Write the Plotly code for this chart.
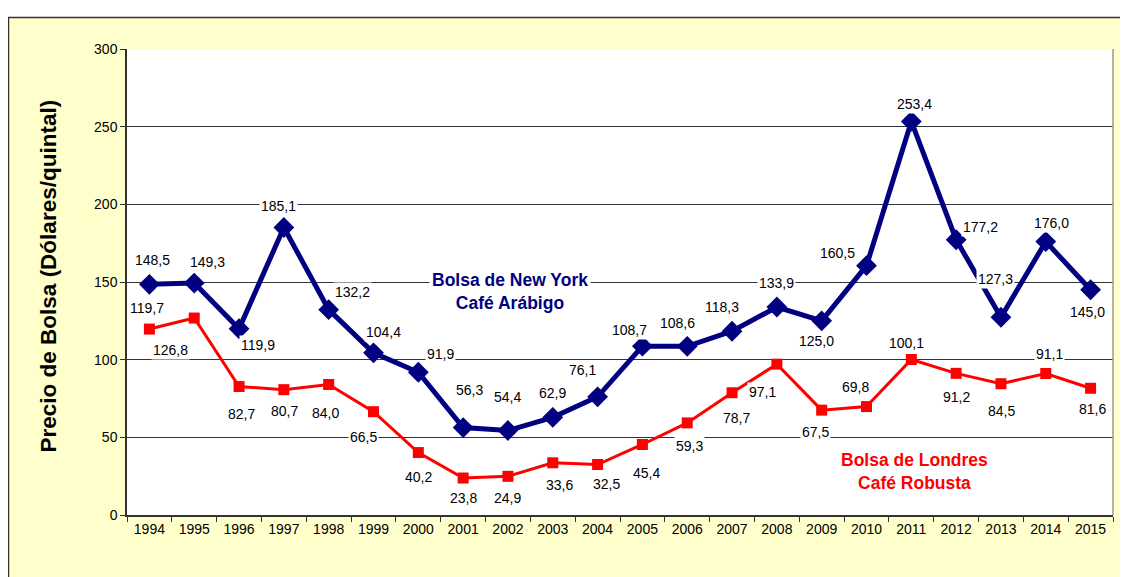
import plotly.graph_objects as go

years = [str(y) for y in range(1994, 2016)]
ny_arabigo = [148.5, 149.3, 119.9, 185.1, 132.2, 104.4, 91.9, 56.3, 54.4, 62.9, 76.1,
              108.7, 108.6, 118.3, 133.9, 125.0, 160.5, 253.4, 177.2, 127.3, 176.0, 145.0]
londres_robusta = [119.7, 126.8, 82.7, 80.7, 84.0, 66.5, 40.2, 23.8, 24.9, 33.6, 32.5,
                   45.4, 59.3, 78.7, 97.1, 67.5, 69.8, 100.1, 91.2, 84.5, 91.1, 81.6]

# label pixel offsets (dx, dy screen; dy positive = down)
ny_off = [(3, -24), (13, -21), (19, 16), (-5, -21), (24, -18), (10, -21), (22, -18),
          (6, -38), (0, -34), (0, -24), (-15, -27), (-13, -16), (-10, -23), (-10, -24),
          (0, -24), (-5, 20), (-29, -13), (3, -17), (24, -13), (-5, -38), (6, -19), (-3, 22)]
lo_off = [(-2, -21), (-24, 32), (2, 27), (1, 21), (-3, 28), (-10, 25), (0, 24),
          (0, 20), (0, 22), (7, 22), (9, 19), (4, 29), (2, 23), (4, 25), (-14, 28),
          (-6, 22), (-11, -20), (-5, -17), (0, 24), (1, 27), (4, -19), (2, 21)]

NAVY = "#000080"
RED = "#FF0000"
FONT = "Liberation Sans, Arial, sans-serif"

fig = go.Figure()
fig.add_trace(go.Scatter(x=years, y=londres_robusta, mode="lines+markers",
                         line=dict(color=RED, width=3),
                         marker=dict(symbol="square", size=11, color=RED),
                         name="Bolsa de Londres"))
fig.add_trace(go.Scatter(x=years, y=ny_arabigo, mode="lines+markers",
                         line=dict(color=NAVY, width=5),
                         marker=dict(symbol="diamond", size=16, color=NAVY),
                         name="Bolsa de New York"))

annotations = []
def fmt(v):
    return f"{v:.1f}".replace(".", ",")

for series, offs in ((ny_arabigo, ny_off), (londres_robusta, lo_off)):
    for i, (v, (dx, dy)) in enumerate(zip(series, offs)):
        annotations.append(dict(x=i, y=v, xref="x", yref="y", text=fmt(v),
                                showarrow=False, xshift=dx, yshift=-dy,
                                bgcolor="white", borderpad=1,
                                font=dict(family=FONT, size=14, color="black")))

annotations.append(dict(x=8.05, y=143.6, xref="x", yref="y",
                        text="Bolsa de New York<br>Café Arábigo", showarrow=False,
                        bgcolor="white", borderpad=2,
                        font=dict(family=FONT, size=17.5, color=NAVY, weight="bold")))
annotations.append(dict(x=17.08, y=27.7, xref="x", yref="y",
                        text="Bolsa de Londres<br>Café Robusta", showarrow=False,
                        bgcolor="white", borderpad=2,
                        font=dict(family=FONT, size=17.5, color=RED, weight="bold")))

# page is drawn with an 8px body margin; figure coordinates are page - 8
W, H = 1120, 569
L, T, R, B = 119, 41, 15, 62
pw, ph = W - L - R, H - T - B
def px(xp):
    return (xp - L) / pw
def py(yp):
    return (H - B - yp) / ph

annotations.append(dict(x=px(26), y=0.513, xref="paper", yref="paper",
                        text="Precio de Bolsa (Dólares/quintal)", textangle=-90,
                        showarrow=False,
                        font=dict(family=FONT, size=22.5, color="black", weight="bold")))

shapes = [
    dict(type="rect", xref="paper", yref="paper", x0=px(-50), x1=px(W + 50),
         y0=py(9), y1=py(-50), fillcolor="white", line=dict(width=0), layer="above"),
    dict(type="line", xref="paper", yref="paper", x0=px(0), x1=px(W + 50),
         y0=py(9.5), y1=py(9.5), line=dict(color="#333333", width=1.5)),
    dict(type="line", xref="paper", yref="paper", x0=px(0.5), x1=px(0.5),
         y0=py(9), y1=py(H + 50), line=dict(color="#333333", width=1.5)),
    dict(type="line", xref="paper", yref="paper", x0=1, x1=1, y0=0, y1=1,
         line=dict(color="#999999", width=1.5)),
]

fig.update_layout(
    width=W, height=H,
    margin=dict(l=L, r=R, t=T, b=B),
    paper_bgcolor="#FFFFCC",
    plot_bgcolor="white",
    showlegend=False,
    font=dict(family=FONT, size=14, color="black"),
    annotations=annotations,
    shapes=shapes,
    xaxis=dict(type="category", tickson="boundaries", ticks="outside", ticklen=5,
               tickcolor="#333333", showline=True, linecolor="#333333", linewidth=1.5,
               showgrid=False, tickfont=dict(size=14, color="black"),
               range=[-0.5, 21.5]),
    yaxis=dict(range=[0, 300], dtick=50, ticks="outside", ticklen=5,
               tickcolor="#333333", showline=True, linecolor="#333333", linewidth=1.5,
               gridcolor="#333333", gridwidth=1, zeroline=False,
               tickfont=dict(size=14, color="black")),
)

fig.write_html("out.html")
